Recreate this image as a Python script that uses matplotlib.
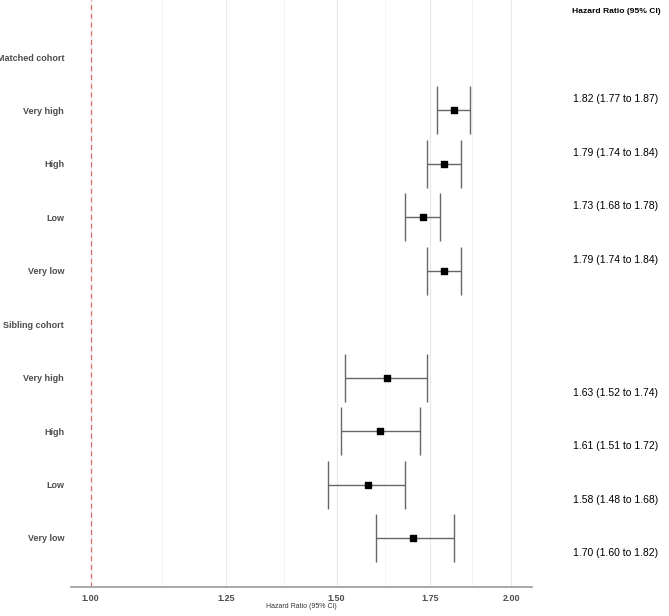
import numpy as np
import matplotlib
matplotlib.use("Agg")
import matplotlib.pyplot as plt
from matplotlib.ticker import FixedLocator, NullFormatter

plt.rcParams['font.family'] = ['Liberation Sans', 'DejaVu Sans']

# rows, top to bottom (None = group header)
row_labels = ['Matched cohort', 'Very high', 'High', 'Low', 'Very low',
              'Sibling cohort', 'Very high', 'High', 'Low', 'Very low']
hr = [None, 1.82, 1.79, 1.73, 1.79, None, 1.63, 1.61, 1.58, 1.70]
lo = [None, 1.77, 1.74, 1.68, 1.74, None, 1.52, 1.51, 1.48, 1.60]
hi = [None, 1.87, 1.84, 1.78, 1.84, None, 1.74, 1.72, 1.68, 1.82]
ci_text = [None, '1.82 (1.77 to 1.87)', '1.79 (1.74 to 1.84)', '1.73 (1.68 to 1.78)',
           '1.79 (1.74 to 1.84)', None, '1.63 (1.52 to 1.74)', '1.61 (1.51 to 1.72)',
           '1.58 (1.48 to 1.68)', '1.70 (1.60 to 1.82)']
x_ticks = [1.00, 1.25, 1.50, 1.75, 2.00]
x_minor = [1.125, 1.375, 1.625, 1.875]

fig = plt.figure(figsize=(6.69, 6.16), dpi=100)
ax = fig.add_axes([0.1061, 0.0471, 0.6891, 0.9529])

ypos = np.arange(len(row_labels))
idx = [i for i, v in enumerate(hr) if v is not None]
est = np.array([hr[i] for i in idx])
err = np.array([[hr[i] - lo[i] for i in idx], [hi[i] - hr[i] for i in idx]])

ax.errorbar(est, ypos[idx], xerr=err, fmt='none', ecolor='#666666',
            elinewidth=1.0, capsize=17.5, capthick=1.0, zorder=3)
ax.scatter(est, ypos[idx], marker='s', s=14, color='black', zorder=4)

ax.axvline(1.0, color='#e06a6a', linestyle=(0, (4, 3)), linewidth=0.9, zorder=2)

ax.set_xscale('log')
ax.set_xlim(0.968, 2.07)
ax.xaxis.set_major_locator(FixedLocator(x_ticks))
ax.xaxis.set_minor_locator(FixedLocator(x_minor))
ax.xaxis.set_minor_formatter(NullFormatter())
ax.set_xticklabels([f'{t:.2f}' for t in x_ticks])
ax.grid(axis='x', which='major', color='#e8e8e8', linewidth=0.8)
ax.grid(axis='x', which='minor', color='#f0f0f0', linewidth=0.5)
ax.set_axisbelow(True)

ax.set_ylim(9.917, -1.067)
ax.set_yticks(ypos)
ax.set_yticklabels(row_labels)

ax.tick_params(axis='both', which='both', length=0)
ax.tick_params(axis='y', pad=5, labelsize=6.5, labelcolor='#4d4d4d')
ax.tick_params(axis='x', pad=5, labelsize=6.5, labelcolor='#4d4d4d')
for lab in ax.get_yticklabels() + ax.get_xticklabels():
    lab.set_fontweight('bold')

for s in ['top', 'right', 'left']:
    ax.spines[s].set_visible(False)
ax.spines['bottom'].set_color('#999999')
ax.spines['bottom'].set_linewidth(1.2)

ax.set_xlabel('Hazard Ratio (95% CI)', fontsize=5, color='#333333', labelpad=0)

# right-hand text column (the source panel sits slightly offset from the rows)
trans = ax.get_yaxis_transform()
for i, t in enumerate(ci_text):
    if t is None:
        continue
    off = -0.21 if i < 5 else 0.28
    ax.text(1.182, i + off, t, transform=trans, ha='center', va='center',
            fontsize=7.5, color='black', clip_on=False)
ax.text(1.182, -0.86, 'Hazard Ratio (95% CI)', transform=trans, ha='center',
        va='center', fontsize=6.1, fontweight='bold', clip_on=False)

fig.savefig('out.png', dpi=100)
